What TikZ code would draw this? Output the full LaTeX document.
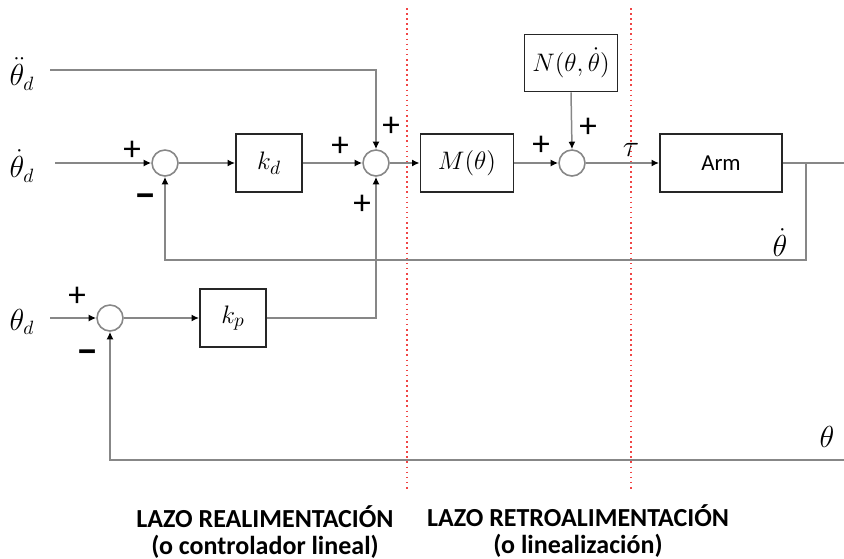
\documentclass[tikz,border=0pt]{standalone}
\usepackage{amsmath, amssymb}
\usepackage{fontspec}
\setsansfont{Carlito}
\usepackage{tikz}
\usetikzlibrary{arrows.meta, positioning, calc}
\usepackage{xcolor}
\definecolor{wiregray}{RGB}{135, 135, 135}
\definecolor{cutred}{RGB}{240, 70, 70}

\tikzset{
  blk/.style={draw=black!85, line width=1.1pt, rectangle, fill=white, minimum height=1.16cm,
    font=\fontsize{15}{17}\selectfont},
  sumnode/.style={circle, draw=wiregray, line width=0.9pt, minimum size=0.52cm, inner sep=0pt},
  sig/.style={draw=wiregray, line width=0.85pt},
  sgn/.style={font=\sffamily\fontsize{20}{22}\selectfont, inner sep=0pt},
  minus/.style={font=\sffamily\bfseries\fontsize{23}{25}\selectfont, inner sep=0pt},
  lbl/.style={font=\fontsize{16}{18}\selectfont, inner sep=0pt},
  cut/.style={draw=cutred, dotted, line width=0.9pt},
  zonecap/.style={font=\sffamily\bfseries\fontsize{14.8}{15}\selectfont, align=center}
}

\begin{document}
\begin{tikzpicture}[x=0.02cm, y=-0.02cm, >={Latex[length=1.5mm, width=1.4mm, color=black]}]
        \useasboundingbox (0,0) rectangle (844,558);
        % zones
        \draw[cut] (407,8) -- (407,490);
        \draw[cut] (631,8) -- (631,490);
        % blocks
        \node[sumnode] (s1) at (165,163) {};
        \node[blk, minimum width=1.32cm] (kd) at (269,163) {$k_d$};
        \node[sumnode] (s2) at (376,163) {};
        \node[blk, minimum width=1.86cm] (M) at (467,163) {$M(\theta)$};
        \node[sumnode] (s3) at (572,163) {};
        \node[blk, minimum width=1.86cm, minimum height=1.14cm] (N) at (571,63) {$N(\theta,\dot{\theta})$};
        \node[blk, minimum width=2.44cm, font=\sffamily\fontsize{13}{15}\selectfont] (arm) at (721,163) {Arm};
        \node[sumnode] (s4) at (110,318) {};
        \node[blk, minimum width=1.32cm] (kp) at (233,318) {$k_p$};
        % inputs and outputs
        \node[lbl] (ddth) at (22,74) {$\ddot{\theta}_d$};
        \node[lbl] (dth) at (22,166) {$\dot{\theta}_d$};
        \node[lbl] (th) at (22,322) {$\theta_d$};
        \coordinate (ddthin) at (50,70);
        \coordinate (dthin) at (55,163);
        \coordinate (thin) at (50,318);
        \coordinate (br1) at (806,163);
        \coordinate (out1) at (844,163);
        \coordinate (out2) at (844,460);
        % signals
        \draw[sig, ->] (dthin) -- (s1.west);
        \draw[sig, ->] (s1.east) -- (kd.west);
        \draw[sig, ->] (kd.east) -- (s2.west);
        \draw[sig, ->] (ddthin) -| (s2.north);
        \draw[sig, ->] (s2.east) -- (M.west);
        \draw[sig, ->] (M.east) -- (s3.west);
        \draw[sig, ->] (N.south) -- (s3.north);
        \draw[sig, ->] (s3.east) -- (arm.west);
        \draw[sig] (arm.east) -- (out1);
        \draw[sig, ->] (br1) -- ++(0,97) -| (s1.south);
        \draw[sig, ->] (thin) -- (s4.west);
        \draw[sig, ->] (s4.east) -- (kp.west);
        \draw[sig, ->] (kp.east) -| (s2.south);
        \draw[sig, ->] (out2) -| (s4.south);
        % signs
        \node[sgn] (p1) at (132,151) {+};
        \node[minus] (m1) at (146,201) {−};
        \node[sgn] (p2a) at (340,147) {+};
        \node[sgn] (p2b) at (391,127) {+};
        \node[sgn] (p2c) at (362,205) {+};
        \node[sgn] (p3a) at (541,146) {+};
        \node[sgn] (p3b) at (588,128) {+};
        \node[sgn] (p4) at (77,297) {+};
        \node[minus] (m4) at (88,357) {−};
        % signal names
        \node[lbl] (tau) at (631,150) {$\tau$};
        \node[lbl] (dthout) at (780,243) {$\dot{\theta}$};
        \node[lbl] (thout) at (827,437) {$\theta$};
        % captions
        \node[zonecap] (capA) at (265,532) {LAZO REALIMENTACIÓN\\(o controlador lineal)};
        \node[zonecap] (capB) at (578,531) {LAZO RETROALIMENTACIÓN\\(o linealización)};
      \end{tikzpicture}
\end{document}
